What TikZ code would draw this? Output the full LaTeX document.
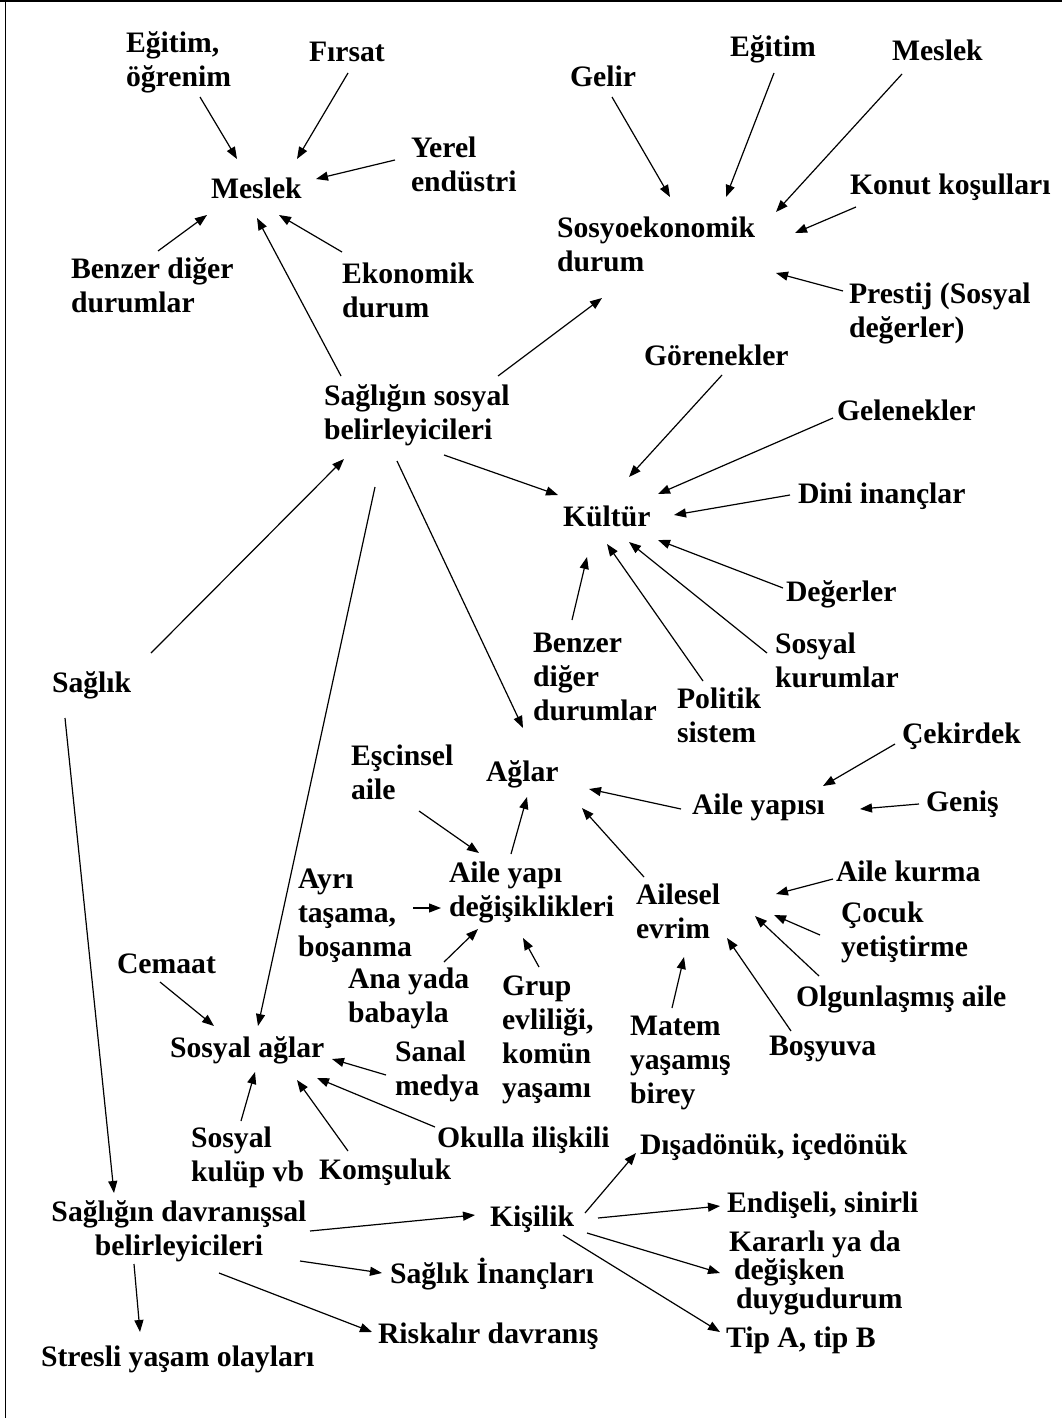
\documentclass[tikz,border=0pt]{standalone}
\usepackage{fontspec}
\setmainfont{Liberation Serif}
\usetikzlibrary{arrows.meta}
% fixed height for the first line of every label, so that labels are placed by their first baseline
\newcommand\ls{\rule{0pt}{30pt}}
\begin{document}
\begin{tikzpicture}[x=1pt,y=-1pt,
  lbl/.style={inner sep=0pt, outer sep=0pt, align=left, anchor=north west, yshift=30pt,
    font={\fontsize{29.7pt}{34pt}\selectfont\bfseries}},
  arr/.style={line width=1.2pt, -{Triangle[length=12pt,width=9pt]}},
  edge/.style={line width=1.6pt}]
\useasboundingbox[fill=white] (0,0) rectangle (1062,1418);
% frame
\draw[edge] (0,1) -- (1062,1);
\draw[edge] (5.5,0) -- (5.5,1418);

% occupation
\node[lbl] (egitim1) at (126,53) {\ls Eğitim,\\öğrenim};
\node[lbl] (firsat) at (309,62) {\ls Fırsat};
\node[lbl] (yerel) at (411,157) {\ls Yerel\\endüstri};
\node[lbl] (meslek1) at (211,198) {\ls Meslek};
\node[lbl] (benzer1) at (71,278) {\ls Benzer diğer\\durumlar};
\node[lbl] (ekonomik) at (342,283) {\ls Ekonomik\\durum};

% socioeconomic status
\node[lbl] (gelir) at (570,87) {\ls Gelir};
\node[lbl] (egitim2) at (730,57) {\ls Eğitim};
\node[lbl] (meslek2) at (892,61) {\ls Meslek};
\node[lbl] (konut) at (850,194) {\ls Konut koşulları};
\node[lbl] (sosyo) at (557,237) {\ls Sosyoekonomik\\durum};
\node[lbl] (prestij) at (849,303) {\ls Prestij (Sosyal\\değerler)};

% social determinants and culture
\node[lbl] (ssb) at (324,405) {\ls Sağlığın sosyal\\belirleyicileri};
\node[lbl] (gorenek) at (644,365) {\ls Görenekler};
\node[lbl] (gelenek) at (837,420) {\ls Gelenekler};
\node[lbl] (dini) at (798,503) {\ls Dini inançlar};
\node[lbl] (kultur) at (563,526) {\ls Kültür};
\node[lbl] (degerler) at (786,601) {\ls Değerler};
\node[lbl] (sosyalkurum) at (775,653) {\ls Sosyal\\kurumlar};
\node[lbl] (politik) at (677,708) {\ls Politik\\sistem};
\node[lbl] (benzer2) at (533,652) {\ls Benzer\\diğer\\durumlar};
\node[lbl] (saglik) at (52,692) {\ls Sağlık};

% networks and family
\node[lbl] (escinsel) at (351,765) {\ls Eşcinsel\\aile};
\node[lbl] (aglar) at (486,781) {\ls Ağlar};
\node[lbl] (cekirdek) at (902,743) {\ls Çekirdek};
\node[lbl] (aileyapisi) at (692,814) {\ls Aile yapısı};
\node[lbl] (genis) at (926,811) {\ls Geniş};
\node[lbl] (aileyapi) at (449,882) {\ls Aile yapı\\değişiklikleri};
\node[lbl] (ayri) at (298,888) {\ls Ayrı\\taşama,\\boşanma};
\node[lbl] (ailesel) at (636,904) {\ls Ailesel\\evrim};
\node[lbl] (ailekurma) at (836,881) {\ls Aile kurma};
\node[lbl] (cocuk) at (841,922) {\ls Çocuk\\yetiştirme};
\node[lbl] (olgun) at (796,1006) {\ls Olgunlaşmış aile};
\node[lbl] (bosyuva) at (769,1055) {\ls Boşyuva};
\node[lbl] (cemaat) at (117,973) {\ls Cemaat};
\node[lbl] (anayada) at (348,988) {\ls Ana yada\\babayla};
\node[lbl] (grup) at (502,995) {\ls Grup\\evliliği,\\komün\\yaşamı};
\node[lbl] (matem) at (630,1035) {\ls Matem\\yaşamış\\birey};
\node[lbl] (sosyalaglar) at (170,1057) {\ls Sosyal ağlar};
\node[lbl] (sanal) at (395,1061) {\ls Sanal\\medya};
\node[lbl] (sosyalkulup) at (191,1147) {\ls Sosyal\\kulüp vb};
\node[lbl] (komsuluk) at (319,1179) {\ls Komşuluk};
\node[lbl] (okulla) at (437,1147) {\ls Okulla ilişkili};

% behavioural determinants
\node[lbl, anchor=north, align=center] (sdb) at (179,1221) {\ls Sağlığın davranışsal\\belirleyicileri};
\node[lbl] (kisilik) at (490,1226) {\ls Kişilik};
\node[lbl] (disa) at (640,1154) {\ls Dışadönük, içedönük};
\node[lbl] (endiseli) at (727,1212) {\ls Endişeli, sinirli};
\node[lbl, font={\fontsize{29.7pt}{28.5pt}\selectfont\bfseries}] (kararli) at (729,1251)
  {\ls Kararlı ya da\\\hspace*{5pt}değişken\\\hspace*{7pt}duygudurum};
\node[lbl] (inanc) at (390,1283) {\ls Sağlık İnançları};
\node[lbl] (riskalir) at (378,1343) {\ls Riskalır davranış};
\node[lbl] (tip) at (726,1347) {\ls Tip A, tip B};
\node[lbl] (stresli) at (41,1366) {\ls Stresli yaşam olayları};

% connectors into Meslek
\draw[arr] ([shift={(74,74)}]egitim1.north west) -- ([shift={(26,-9)}]meslek1.north west);
\draw[arr] ([shift={(39,41)}]firsat.north west) -- ([shift={(86,-9)}]meslek1.north west);
\draw[arr] ([shift={(-16,33)}]yerel.north west) -- ([shift={(105,11)}]meslek1.north west);
\draw[arr] ([shift={(87,3)}]benzer1.north west) -- ([shift={(-4,47)}]meslek1.north west);
\draw[arr] ([shift={(0,-1)}]ekonomik.north west) -- ([shift={(68,47)}]meslek1.north west);
\draw[arr] ([shift={(17,1)}]ssb.north west) -- ([shift={(46,50)}]meslek1.north west);

% connectors into Sosyoekonomik durum
\draw[arr] ([shift={(42,40)}]gelir.north west) -- ([shift={(113,-10)}]sosyo.north west);
\draw[arr] ([shift={(44,46)}]egitim2.north west) -- ([shift={(169,-10)}]sosyo.north west);
\draw[arr] ([shift={(10,43)}]meslek2.north west) -- ([shift={(219,5)}]sosyo.north west);
\draw[arr] ([shift={(6,43)}]konut.north west) -- ([shift={(238,26)}]sosyo.north west);
\draw[arr] ([shift={(-6,18)}]prestij.north west) -- ([shift={(219,66)}]sosyo.north west);
\draw[arr] ([shift={(174,1)}]ssb.north west) -- ([shift={(45,91)}]sosyo.north west);

% Sağlık and the social determinants
\draw[arr] ([shift={(99,-9)}]saglik.north west) -- ([shift={(20,84)}]ssb.north west);
\draw[arr] ([shift={(51,112)}]ssb.north west) -- ([shift={(88,-1)}]sosyalaglar.north west);
\draw[arr] ([shift={(73,86)}]ssb.north west) -- ([shift={(37,-23)}]aglar.north west);
\draw[arr] ([shift={(120,80)}]ssb.north west) -- ([shift={(-5,-1)}]kultur.north west);
\draw[arr] ([shift={(13,56)}]saglik.north west) -- ([shift={(-65,2)}]sdb.north);

% connectors into Kültür
\draw[arr] ([shift={(78,40)}]gorenek.north west) -- ([shift={(66,-19)}]kultur.north west);
\draw[arr] ([shift={(-4,28)}]gelenek.north west) -- ([shift={(95,-2)}]kultur.north west);
\draw[arr] ([shift={(-8,22)}]dini.north west) -- ([shift={(111,19)}]kultur.north west);
\draw[arr] ([shift={(-3,17)}]degerler.north west) -- ([shift={(95,44)}]kultur.north west);
\draw[arr] ([shift={(-8,30)}]sosyalkurum.north west) -- ([shift={(66,46)}]kultur.north west);
\draw[arr] ([shift={(26,3)}]politik.north west) -- ([shift={(44,48)}]kultur.north west);
\draw[arr] ([shift={(39,-2)}]benzer2.north west) -- ([shift={(24,61)}]kultur.north west);

% connectors into Ağlar and the family nodes
\draw[arr] ([shift={(68,76)}]escinsel.north west) -- ([shift={(30,1)}]aileyapi.north west);
\draw[arr] ([shift={(62,2)}]aileyapi.north west) -- ([shift={(41,46)}]aglar.north west);
\draw[arr] ([shift={(-11,25)}]aileyapisi.north west) -- ([shift={(103,38)}]aglar.north west);
\draw[arr] ([shift={(-7,31)}]cekirdek.north west) -- ([shift={(131,2)}]aileyapisi.north west);
\draw[arr] ([shift={(-7,23)}]genis.north west) -- ([shift={(168,25)}]aileyapisi.north west);
\draw[arr] ([shift={(8,3)}]ailesel.north west) -- ([shift={(96,57)}]aglar.north west);
\draw[arr] ([shift={(115,50)}]ayri.north west) -- ([shift={(-8,56)}]aileyapi.north west);
\draw[arr] ([shift={(96,4)}]anayada.north west) -- ([shift={(29,77)}]aileyapi.north west);
\draw[arr] ([shift={(37,2)}]grup.north west) -- ([shift={(74,86)}]aileyapi.north west);
\draw[arr] ([shift={(-3,28)}]ailekurma.north west) -- ([shift={(140,20)}]ailesel.north west);
\draw[arr] ([shift={(-21,43)}]cocuk.north west) -- ([shift={(138,41)}]ailesel.north west);
\draw[arr] ([shift={(23,0)}]olgun.north west) -- ([shift={(119,42)}]ailesel.north west);
\draw[arr] ([shift={(22,6)}]bosyuva.north west) -- ([shift={(91,64)}]ailesel.north west);
\draw[arr] ([shift={(42,3)}]matem.north west) -- ([shift={(48,83)}]ailesel.north west);

% connectors into Sosyal ağlar
\draw[arr] ([shift={(43,39)}]cemaat.north west) -- ([shift={(44,-1)}]sosyalaglar.north west);
\draw[arr] ([shift={(-9,44)}]sanal.north west) -- ([shift={(162,32)}]sosyalaglar.north west);
\draw[arr] ([shift={(-2,10)}]okulla.north west) -- ([shift={(147,51)}]sosyalaglar.north west);
\draw[arr] ([shift={(29,2)}]komsuluk.north west) -- ([shift={(127,53)}]sosyalaglar.north west);
\draw[arr] ([shift={(50,4)}]sosyalkulup.north west) -- ([shift={(85,45)}]sosyalaglar.north west);

% behavioural determinants
\draw[arr] ([shift={(131,40)}]sdb.north) -- ([shift={(-15,19)}]kisilik.north west);
\draw[arr] ([shift={(121,70)}]sdb.north) -- ([shift={(-8,20)}]inanc.north west);
\draw[arr] ([shift={(40,82)}]sdb.north) -- ([shift={(-6,19)}]riskalir.north west);
\draw[arr] ([shift={(-45,73)}]sdb.north) -- ([shift={(99,-4)}]stresli.north west);

% personality
\draw[arr] ([shift={(95,17)}]kisilik.north west) -- ([shift={(-4,29)}]disa.north west);
\draw[arr] ([shift={(108,22)}]kisilik.north west) -- ([shift={(-7,24)}]endiseli.north west);
\draw[arr] ([shift={(97,37)}]kisilik.north west) -- ([shift={(-9,52)}]kararli.north west);
\draw[arr] ([shift={(73,39)}]kisilik.north west) -- ([shift={(-6,15)}]tip.north west);
\end{tikzpicture}
\end{document}
